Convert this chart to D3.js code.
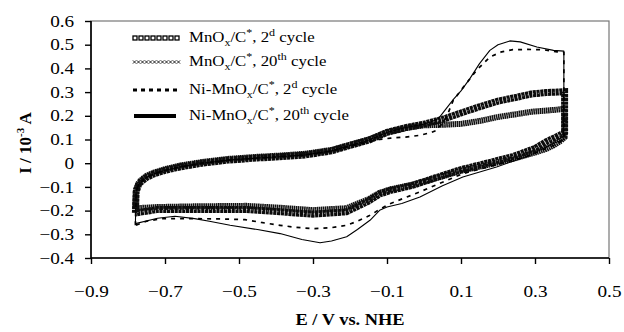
<!DOCTYPE html>
<html>
<head>
<meta charset="utf-8">
<script src="https://cdn.jsdelivr.net/npm/d3@7"></script>
<style>
  body { margin: 0; background: #fff; }
  text { font-family: "Liberation Serif", "Times New Roman", serif; fill: #000; }
</style>
</head>
<body>
<svg width="624" height="332"></svg>
<script>
// x ticks / y ticks
var xTicks = [-0.9, -0.7, -0.5, -0.3, -0.1, 0.1, 0.3, 0.5];
var yTicks = [-0.4, -0.3, -0.2, -0.1, 0, 0.1, 0.2, 0.3, 0.4, 0.5, 0.6];

// MnOx/C*, 2d cycle (squares)
var mn2E = [-0.78, -0.778, -0.77, -0.75, -0.73, -0.70, -0.66, -0.60, -0.53, -0.45, -0.39, -0.32, -0.25, -0.20, -0.15, -0.10, -0.05, 0.0,
            0.05, 0.10, 0.15, 0.20, 0.25, 0.29, 0.33, 0.36, 0.38,
            0.38, 0.37, 0.35, 0.33, 0.30, 0.24, 0.17, 0.10, 0.04, -0.03, -0.09, -0.12, -0.15, -0.21, -0.30, -0.39, -0.48, -0.62, -0.72, -0.78];
var mn2I = [-0.21, -0.12, -0.085, -0.06, -0.045, -0.03, -0.016, 0.0, 0.013, 0.022, 0.027, 0.035, 0.052, 0.075, 0.097, 0.13, 0.15, 0.165,
            0.185, 0.212, 0.238, 0.262, 0.278, 0.292, 0.298, 0.30, 0.302,
            0.13, 0.12, 0.105, 0.09, 0.062, 0.028, 0.0, -0.027, -0.057, -0.093, -0.115, -0.13, -0.16, -0.205, -0.215, -0.205, -0.195, -0.195, -0.195, -0.21];

// MnOx/C*, 20th cycle (crosses)
var mn20E = [-0.78, -0.778, -0.77, -0.75, -0.73, -0.70, -0.66, -0.60, -0.53, -0.45, -0.39, -0.32, -0.25, -0.20, -0.15, -0.10, -0.05, 0.0,
             0.05, 0.10, 0.15, 0.20, 0.25, 0.29, 0.33, 0.36, 0.38,
             0.38, 0.37, 0.35, 0.33, 0.30, 0.24, 0.17, 0.10, 0.04, -0.03, -0.09, -0.12, -0.15, -0.21, -0.30, -0.39, -0.48, -0.62, -0.72, -0.78];
var mn20I = [-0.19, -0.11, -0.078, -0.053, -0.04, -0.025, -0.01, 0.005, 0.018, 0.027, 0.032, 0.04, 0.056, 0.078, 0.1, 0.13, 0.148, 0.16,
             0.162, 0.166, 0.178, 0.195, 0.207, 0.217, 0.222, 0.226, 0.23,
             0.11, 0.095, 0.075, 0.06, 0.045, 0.018, -0.008, -0.032, -0.06, -0.09, -0.11, -0.125, -0.152, -0.19, -0.198, -0.188, -0.18, -0.182, -0.185, -0.19];

// Ni-MnOx/C*, 2d cycle (dashed)
var ni2E = [-0.78, -0.778, -0.77, -0.75, -0.73, -0.70, -0.66, -0.60, -0.53, -0.45, -0.39, -0.32, -0.25, -0.20,
            -0.15, -0.12, -0.09, -0.05, -0.01, 0.02, 0.034, 0.05, 0.061, 0.079, 0.106, 0.142, 0.178, 0.21, 0.24, 0.28, 0.322, 0.36, 0.378,
            0.378, 0.35, 0.28, 0.20, 0.105, 0.05, -0.011, -0.05, -0.092, -0.12, -0.146, -0.18, -0.209, -0.25, -0.30, -0.35, -0.389, -0.44, -0.484, -0.55, -0.62, -0.709, -0.75, -0.78];
var ni2I = [-0.262, -0.12, -0.085, -0.06, -0.045, -0.03, -0.016, 0.0, 0.013, 0.022, 0.027, 0.035, 0.052, 0.072,
            0.09, 0.10, 0.106, 0.11, 0.118, 0.13, 0.139, 0.17, 0.195, 0.265, 0.32, 0.392, 0.448, 0.47, 0.479, 0.48, 0.479, 0.47, 0.468,
            0.10, 0.075, 0.03, -0.005, -0.044, -0.08, -0.121, -0.145, -0.171, -0.195, -0.22, -0.245, -0.262, -0.272, -0.276, -0.27, -0.262, -0.25, -0.238, -0.235, -0.234, -0.234, -0.245, -0.262];

// Ni-MnOx/C*, 20th cycle (solid)
var ni20E = [-0.78, -0.778, -0.77, -0.75, -0.73, -0.70, -0.66, -0.60, -0.53, -0.45, -0.39, -0.32, -0.25, -0.20, -0.15, -0.10, -0.05, 0.0,
             0.025, 0.04, 0.06, 0.08, 0.10, 0.124, 0.15, 0.178, 0.20, 0.232, 0.26, 0.305, 0.35, 0.378,
             0.378, 0.35, 0.286, 0.196, 0.105, 0.05, -0.011, -0.06, -0.10, -0.12, -0.146, -0.18, -0.209, -0.25, -0.281, -0.33, -0.389, -0.45, -0.524, -0.58, -0.62, -0.673, -0.72, -0.78];
var ni20I = [-0.255, -0.12, -0.085, -0.06, -0.045, -0.03, -0.016, 0.0, 0.013, 0.022, 0.027, 0.035, 0.052, 0.075, 0.097, 0.13, 0.15, 0.165,
             0.178, 0.19, 0.23, 0.27, 0.305, 0.357, 0.42, 0.476, 0.50, 0.516, 0.512, 0.49, 0.476, 0.473,
             0.10, 0.084, 0.033, -0.016, -0.058, -0.095, -0.143, -0.17, -0.185, -0.199, -0.241, -0.28, -0.31, -0.328, -0.336, -0.322, -0.297, -0.28, -0.262, -0.245, -0.234, -0.224, -0.232, -0.255];

var legendLabels = [
  [["MnO"], ["x", "sub"], ["/C"], ["*", "sup"], [", 2"], ["d", "sup"], [" cycle"]],
  [["MnO"], ["x", "sub"], ["/C"], ["*", "sup"], [", 20"], ["th", "sup"], [" cycle"]],
  [["Ni-MnO"], ["x", "sub"], ["/C"], ["*", "sup"], [", 2"], ["d", "sup"], [" cycle"]],
  [["Ni-MnO"], ["x", "sub"], ["/C"], ["*", "sup"], [", 20"], ["th", "sup"], [" cycle"]]
];

var margin = {left: 91, top: 21, right: 15, bottom: 74};
var width = 624 - margin.left - margin.right;
var height = 332 - margin.top - margin.bottom;
var sx = 1.2; // text in the picture is drawn a bit wide

var svg = d3.select("svg");
var g = svg.append("g").attr("transform", "translate(" + margin.left + "," + margin.top + ")");

var x = d3.scaleLinear().domain([-0.9, 0.5]).range([0, width]);
var y = d3.scaleLinear().domain([-0.4, 0.6]).range([height, 0]);

// frame
g.append("rect")
 .attr("width", width).attr("height", height)
 .attr("fill", "none").attr("stroke", "#777").attr("stroke-width", 1.2);

var xAxis = g.append("g")
  .attr("transform", "translate(0," + height + ")")
  .call(d3.axisBottom(x).tickValues(xTicks).tickSize(6).tickPadding(22)
        .tickFormat(function(d){ return d3.format(".1f")(d); }));
var yAxis = g.append("g")
  .call(d3.axisLeft(y).tickValues(yTicks).tickSize(6).tickPadding(8)
        .tickFormat(function(d){ return d === 0 ? "0" : d3.format(".1f")(d); }));

[xAxis, yAxis].forEach(function(a){
  a.select(".domain").attr("stroke", "#000").attr("stroke-width", 1.6);
  a.selectAll(".tick line").attr("stroke", "#000").attr("stroke-width", 1.4);
  a.selectAll(".tick text")
   .attr("font-family", "Liberation Serif, serif")
   .attr("font-size", 16)
   .attr("transform", "scale(" + sx + ",1)");
});
xAxis.select(".domain").attr("d", "M0,0H" + width);
yAxis.select(".domain").attr("d", "M0,0V" + height);

var line = d3.line()
  .x(function(d){ return x(d[0]); })
  .y(function(d){ return y(d[1]); });

function pts(E, I) { return E.map(function(e, i){ return [e, I[i]]; }); }

var plot = g.append("g");

// MnOx 20th cycle: crosses
plot.append("path").datum(pts(mn20E, mn20I)).attr("d", line)
  .attr("fill", "none").attr("stroke", "#111").attr("stroke-width", 6)
  .attr("stroke-dasharray", "1.6,0.5");
plot.append("path").datum(pts(mn20E, mn20I)).attr("d", line)
  .attr("fill", "none").attr("stroke", "#fff").attr("stroke-width", 0.7)
  .attr("stroke-opacity", 0.4).attr("stroke-dasharray", "1,3");

// MnOx 2d cycle: squares
plot.append("path").datum(pts(mn2E, mn2I)).attr("d", line)
  .attr("fill", "none").attr("stroke", "#0c0c0c").attr("stroke-width", 7)
  .attr("stroke-dasharray", "3.2,0.6");
plot.append("path").datum(pts(mn2E, mn2I)).attr("d", line)
  .attr("fill", "none").attr("stroke", "#fff").attr("stroke-width", 1.1)
  .attr("stroke-opacity", 0.45).attr("stroke-dasharray", "1.2,4");

// Ni-MnOx 2d: dashed
plot.append("path").datum(pts(ni2E, ni2I)).attr("d", line)
  .attr("fill", "none").attr("stroke", "#000").attr("stroke-width", 1.7)
  .attr("stroke-linejoin", "round")
  .attr("stroke-dasharray", "4,5");

// Ni-MnOx 20th: solid
plot.append("path").datum(pts(ni20E, ni20I)).attr("d", line)
  .attr("fill", "none").attr("stroke", "#000").attr("stroke-width", 1.1)
  .attr("stroke-linejoin", "round");

// legend
var legRows = [38, 62, 90, 116];
var legX0 = 133 - margin.left, legX1 = 180 - margin.left;
var leg = g.append("g");

// squares sample
for (var k = 0; k < 8; k++) {
  leg.append("rect")
    .attr("x", legX0 + k * 6).attr("y", legRows[0] - margin.top - 2)
    .attr("width", 4).attr("height", 4)
    .attr("fill", "none").attr("stroke", "#000").attr("stroke-width", 1.3);
}
// crosses sample
for (var k = 0; k < 12; k++) {
  var cx = legX0 + 1.5 + k * 4, cy = legRows[1] - margin.top;
  leg.append("path")
    .attr("d", "M" + (cx - 1.6) + "," + (cy - 1.6) + "L" + (cx + 1.6) + "," + (cy + 1.6) +
               "M" + (cx - 1.6) + "," + (cy + 1.6) + "L" + (cx + 1.6) + "," + (cy - 1.6))
    .attr("stroke", "#111").attr("stroke-width", 0.9);
}
leg.append("line")
  .attr("x1", legX0).attr("x2", legX1 - 2)
  .attr("y1", legRows[2] - margin.top).attr("y2", legRows[2] - margin.top)
  .attr("stroke", "#000").attr("stroke-width", 3).attr("stroke-dasharray", "4,4");
leg.append("line")
  .attr("x1", legX0 + 1).attr("x2", legX1 - 4)
  .attr("y1", legRows[3] - margin.top).attr("y2", legRows[3] - margin.top)
  .attr("stroke", "#000").attr("stroke-width", 4);

legendLabels.forEach(function(parts, i){
  var t = leg.append("text")
    .attr("transform", "translate(" + (189 - margin.left) + "," + (legRows[i] - margin.top + 4) + ") scale(" + sx + ",1)")
    .attr("font-size", 14);
  var shift = 0;
  parts.forEach(function(p){
    var ts = t.append("tspan").text(p[0]);
    var want = p[1] === "sub" ? 4 : p[1] === "sup" ? -6 : 0;
    if (want !== shift) { ts.attr("dy", want - shift); shift = want; }
    if (p[1]) ts.attr("font-size", 10);
  });
});

// axis titles
svg.append("text")
  .attr("transform", "translate(350,325) scale(1.15,1)")
  .attr("text-anchor", "middle")
  .attr("font-weight", "bold").attr("font-size", 16)
  .text("E / V vs. NHE");

var yt = svg.append("text")
  .attr("transform", "translate(31,143) rotate(-90)")
  .attr("text-anchor", "middle")
  .attr("font-weight", "bold").attr("font-size", 17);
yt.append("tspan").text("I / 10");
yt.append("tspan").attr("dy", -7).attr("font-size", 11).text("-3");
yt.append("tspan").attr("dy", 7).text(" A");
</script>
</body>
</html>
